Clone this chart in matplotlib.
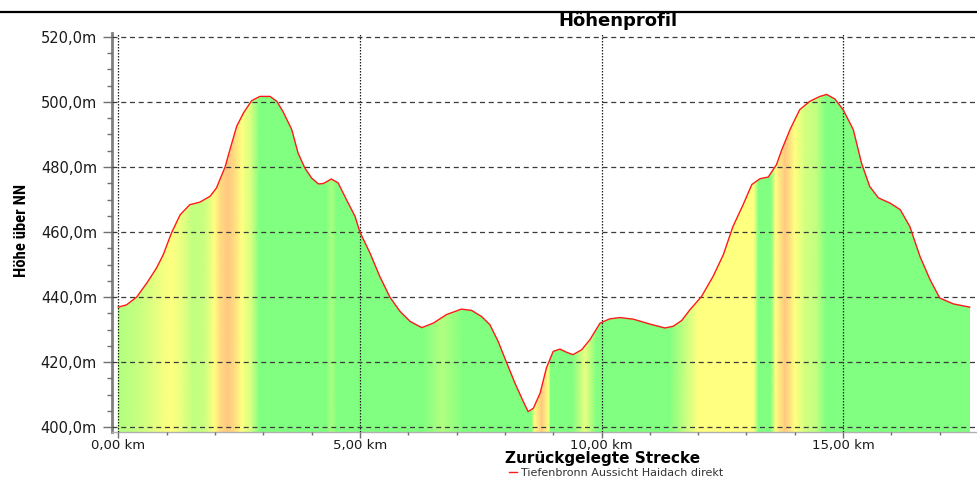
import matplotlib
matplotlib.use('Agg')
import matplotlib.pyplot as plt
import numpy as np
from matplotlib.colors import LinearSegmentedColormap
from matplotlib import font_manager
from matplotlib.ticker import MultipleLocator
from matplotlib.lines import Line2D

# ---------------- data ----------------
distance_km = [0.00, 0.17, 0.38, 0.59, 0.79, 0.93, 1.10, 1.28, 1.48, 1.69,
               1.90, 2.03, 2.21, 2.31, 2.45, 2.59, 2.76, 2.93, 3.14, 3.28,
               3.41, 3.59, 3.72, 3.86, 4.00, 4.14, 4.24, 4.41, 4.55, 4.72,
               4.90, 5.00, 5.21, 5.41, 5.62, 5.83, 6.04, 6.28, 6.52, 6.79,
               7.10, 7.31, 7.52, 7.69, 7.86, 8.04, 8.21, 8.38, 8.48, 8.59,
               8.73, 8.86, 9.00, 9.14, 9.28, 9.41, 9.59, 9.76, 9.97, 10.17,
               10.38, 10.66, 11.00, 11.31, 11.48, 11.66, 11.83, 12.07, 12.31, 12.52,
               12.72, 12.93, 13.11, 13.28, 13.45, 13.62, 13.73, 13.90, 14.10, 14.31,
               14.52, 14.66, 14.83, 15.00, 15.21, 15.38, 15.55, 15.73, 15.97, 16.18,
               16.38, 16.59, 16.80, 17.00, 17.28, 17.62]
elevation_m = [436.9, 437.6, 440.0, 444.3, 448.9, 453.0, 459.7, 465.3, 468.4, 469.2,
               471.0, 473.5, 480.0, 485.3, 492.5, 496.6, 500.4, 501.7, 501.7, 500.2,
               497.0, 491.5, 484.3, 479.7, 476.6, 474.8, 474.9, 476.3, 475.1, 470.0,
               464.8, 460.0, 453.5, 446.4, 440.0, 435.6, 432.5, 430.6, 432.0, 434.6,
               436.3, 435.9, 434.0, 431.5, 426.4, 419.7, 413.5, 407.9, 404.8, 405.8,
               410.5, 418.2, 423.3, 424.0, 423.0, 422.3, 423.8, 426.9, 432.0, 433.3,
               433.7, 433.2, 431.7, 430.5, 431.0, 432.8, 436.1, 440.2, 446.4, 453.0,
               461.7, 468.4, 474.6, 476.4, 476.9, 480.7, 485.3, 491.5, 497.6, 500.2,
               501.7, 502.3, 500.9, 497.6, 491.5, 481.2, 474.0, 470.5, 468.9, 466.9,
               461.7, 452.5, 445.3, 439.7, 437.9, 436.9]

# gradient colouring read from the fill bands (grade in %, 0 = green,
# 3 = yellow, 6 = orange)
grade_km = [0.00, 0.30, 0.60, 0.85, 1.10, 1.30, 1.55, 1.80, 1.98, 2.12,
            2.26, 2.40, 2.55, 2.75, 2.92, 4.30, 4.41, 4.52, 6.30, 6.70,
            7.15, 8.55, 8.62, 8.76, 8.90, 8.95, 9.40, 9.66, 9.90, 11.40,
            11.70, 12.00, 13.15, 13.25, 13.50, 13.60, 13.80, 14.00, 14.20, 14.45,
            14.65, 17.62]
grade_pct = [1.2, 1.5, 2.0, 2.6, 3.0, 2.5, 1.5, 1.8, 3.0, 5.0,
             6.0, 5.0, 3.0, 2.0, 0.0, 0.0, 1.0, 0.0, 0.0, 1.2,
             0.0, 0.0, 3.0, 6.0, 3.0, 0.0, 0.0, 2.5, 0.0, 0.0,
             1.5, 3.0, 3.0, 0.0, 0.0, 3.0, 6.0, 3.0, 2.0, 1.5,
             0.0, 0.0]
grade_scale = [0.0, 3.0, 6.0]
grade_colors = ['#80ff80', '#ffff80', '#ffc880']

x_ticks = [0, 5, 10, 15]
x_tick_labels = ["0,00 km", "5,00 km", "10,00 km", "15,00 km"]
y_ticks = [400, 420, 440, 460, 480, 500, 520]
y_tick_labels = ["400,0m", "420,0m", "440,0m", "460,0m", "480,0m", "500,0m", "520,0m"]
title_text = "Höhenprofil"
x_label = "Zurückgelegte Strecke"
y_label = "Höhe über NN"
series_name = "Tiefenbronn Aussicht Haidach direkt"


def pick_font(cands):
    for c in cands:
        try:
            font_manager.findfont(font_manager.FontProperties(family=c),
                                  fallback_to_default=False)
            return c
        except Exception:
            pass
    return 'DejaVu Sans'


narrow = pick_font(['Liberation Sans Narrow', 'Roboto Condensed', 'Liberation Sans'])

W, H = 977, 478
fig = plt.figure(figsize=(W / 100, H / 100), dpi=100)
ax_left, ax_right, ax_top, ax_bottom = 112, 977, 33, 431.7
ax = fig.add_axes([ax_left / W, 1 - ax_bottom / H, (ax_right - ax_left) / W,
                   (ax_bottom - ax_top) / H])
ymin, ymax = 398.6, 521.2
ax.set_xlim(-0.13, 17.77)
ax.set_ylim(ymin, ymax)

d = np.array(distance_km)
e = np.array(elevation_m)
gk = np.array(grade_km)
gp = np.array(grade_pct)

gmax = grade_scale[-1]
cmap = LinearSegmentedColormap.from_list(
    'grade', [(lv / gmax, c) for lv, c in zip(grade_scale, grade_colors)])
X = np.vstack([gk, gk])
Y = np.vstack([np.full_like(gk, ymin), np.full_like(gk, 506.0)])
C = np.vstack([gp, gp])
mesh = ax.pcolormesh(X, Y, C, cmap=cmap, vmin=0, vmax=gmax,
                     shading='gouraud', zorder=1)
poly = ax.fill_between(d, ymin, e, facecolor='none', edgecolor='none', zorder=1)
mesh.set_clip_path(poly.get_paths()[0], ax.transData)
ax.plot(d, e, color='#ff1a1a', lw=1.0, zorder=3, label=series_name)

# ticks
ax.set_xticks(x_ticks, x_tick_labels)
ax.set_yticks(y_ticks, y_tick_labels)
ax.xaxis.set_minor_locator(MultipleLocator(1))
ax.yaxis.set_minor_locator(MultipleLocator(5))
ax.tick_params(axis='y', which='major', length=6.5, width=1, color='#707070',
               pad=4.3, labelsize=10.5, labelcolor='#1a1a1a')
ax.tick_params(axis='y', which='minor', length=3.6, width=1, color='#707070')
ax.tick_params(axis='x', which='major', length=4.3, width=1, color='#707070',
               pad=0.6, labelsize=9.5, labelcolor='#1a1a1a')
ax.tick_params(axis='x', which='minor', length=2.2, width=1, color='#707070')

# grid
ax.set_axisbelow(False)
ax.yaxis.grid(True, which='major', color='#3a3a3a', lw=0.9, ls=(0, (4, 3)))
ax.xaxis.grid(True, which='major', color='#202020', lw=0.9, ls=(0, (1.2, 1.2)))

for s in ['top', 'right']:
    ax.spines[s].set_visible(False)
ax.spines['left'].set_color('#808080')
ax.spines['left'].set_linewidth(2)
ax.spines['bottom'].set_color('#b0b0b0')
ax.spines['bottom'].set_linewidth(1)

# texts
fig.text(618 / W, 1 - 26.5 / H, title_text, ha='center', va='baseline',
         fontsize=13, fontweight='bold')
fig.text(603 / W, 1 - 463.5 / H, x_label, ha='center', va='baseline',
         fontsize=11, fontweight='bold')
fig.text(21.7 / W, 1 - 230 / H, y_label, rotation=90, ha='center', va='center',
         fontsize=12, fontweight='bold', family=[narrow, 'DejaVu Sans'])

fig.add_artist(Line2D([0, 1], [1 - 11.8 / H] * 2, transform=fig.transFigure,
                      color='black', lw=1.6))

leg = ax.legend(loc='center', bbox_to_anchor=(616 / W, 1 - 473.2 / H),
                bbox_transform=fig.transFigure, frameon=False, fontsize=8,
                handlelength=0.7, handletextpad=0.4, borderpad=0,
                borderaxespad=0)
for t in leg.get_texts():
    t.set_color('#333333')

fig.savefig('out.png', dpi=100)
